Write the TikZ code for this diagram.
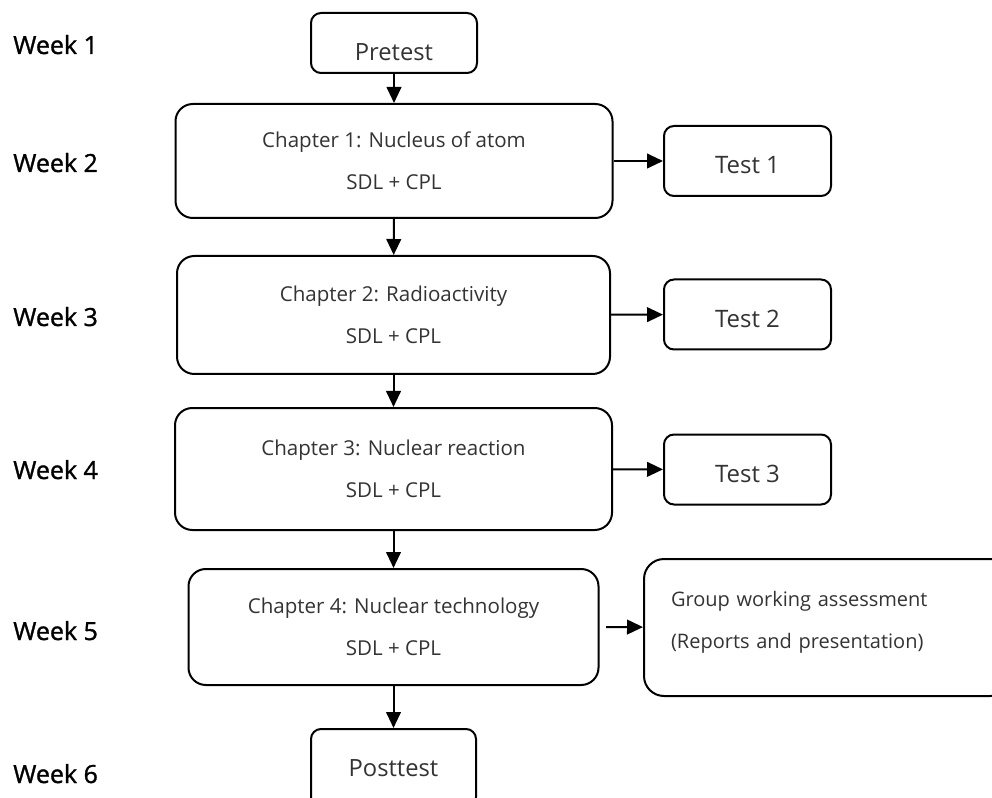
\documentclass[tikz,border=0pt]{standalone}
\usepackage{fontspec}
\setmainfont{Open Sans}
\newfontfamily\weekfont{Open Sans}[FakeBold=1.2]
\usetikzlibrary{arrows.meta}

\begin{document}
\begin{tikzpicture}[x=0.75pt, y=-0.75pt,
    week/.style={anchor=base west, inner sep=0pt, font=\weekfont\fontsize{18.75}{22}\selectfont},
    endbox/.style={rectangle, rounded corners=7.5pt, draw, line width=1.5pt, inner sep=0pt,
        minimum width=124.5pt, text=black!80, font=\fontsize{17.8}{21}\selectfont},
    testbox/.style={rectangle, rounded corners=7.5pt, draw, line width=1.5pt, inner sep=0pt,
        minimum width=125.25pt, minimum height=52.5pt, text height=19.5pt, text depth=0pt,
        text=black!80, font=\fontsize{18}{21}\selectfont},
    chapbox/.style={rectangle, rounded corners=13pt, draw, line width=1.5pt, inner sep=0pt,
        align=center, text=black!80, font=\fontsize{15.4}{31.5}\selectfont}]
    \clip (0,0) rectangle (992,798);
    \useasboundingbox (0,0) rectangle (992,798);

    \node [week] (w1) at (13,54) {Week 1};
    \node [week] (w2) at (13,172) {Week 2};
    \node [week] (w3) at (13,326) {Week 3};
    \node [week] (w4) at (13,479) {Week 4};
    \node [week] (w5) at (13,640) {Week 5};
    \node [week] (w6) at (13,783) {Week 6};

    \node [endbox, minimum height=45pt, text height=27pt, text depth=0pt] (pre) at (394,43) {Pretest};

    \node [chapbox, minimum width=327.75pt, minimum height=85.5pt] (ch1) at (394,161) {Chapter 1: Nucleus of atom\\SDL + CPL};
    \node [chapbox, minimum width=324.75pt, minimum height=88.5pt] (ch2) at (393.5,315) {Chapter 2: Radioactivity\\SDL + CPL};
    \node [chapbox, minimum width=327.75pt, minimum height=91.5pt] (ch3) at (393.5,469) {Chapter 3: Nuclear reaction\\SDL + CPL};
    \node [chapbox, minimum width=307.5pt, minimum height=87pt] (ch4) at (393.5,627) {Chapter 4: Nuclear technology\\SDL + CPL};

    \node [testbox] (t1) at (747.5,161) {Test 1};
    \node [testbox] (t2) at (747.5,314.5) {Test 2};
    \node [testbox] (t3) at (747.5,469.5) {Test 3};

    \node [chapbox, rounded corners=15pt, align=left, text width=234pt, inner xsep=20.25pt,
        minimum height=102.75pt, font=\fontsize{15}{31.5}\selectfont] (group) at (827,627.5)
        {Group working assessment\\(Reports and presentation)\\[-19.4pt]\mbox{}};

    \node [endbox, minimum width=123.75pt, minimum height=58.5pt] (post) at (393.5,768) {Posttest};

    \begin{scope}[line width=1.5pt, -{Triangle[length=12pt, width=11pt]}]
        \draw (pre) -- (ch1);
        \draw (ch1) -- (ch2);
        \draw (ch2) -- (ch3);
        \draw (ch3) -- (ch4);
        \draw (ch4) -- (post);
        \draw (ch1) -- (t1);
        \draw (ch2) -- (t2);
        \draw (ch3) -- (t3);
        \draw ([xshift=5pt]ch4.east) -- (group);
    \end{scope}
\end{tikzpicture}
\end{document}
